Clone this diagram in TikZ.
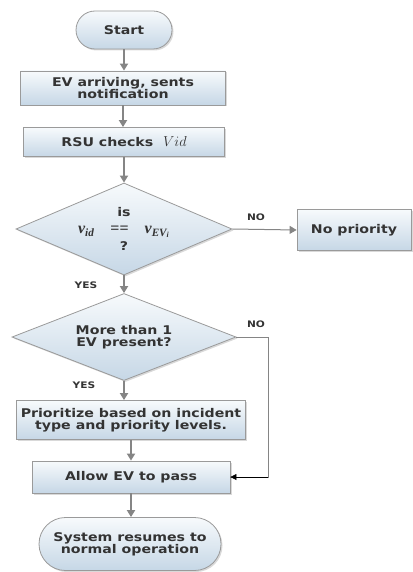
\documentclass[tikz,border=0pt]{standalone}
\usepackage{fontspec}
\setmainfont{DejaVu Sans}[FakeStretch=1.18]
\newfontfamily\vfont{Liberation Serif}
\usetikzlibrary{shapes.geometric,shapes.misc,shadows,arrows.meta}
\definecolor{boxline}{HTML}{9A9A9A}
\definecolor{boxtop}{HTML}{F7FAFC}
\definecolor{boxbot}{HTML}{C6D7E6}
\definecolor{txtgray}{HTML}{333333}
\definecolor{arrgray}{HTML}{858585}
\newcommand{\flowfont}{\fontsize{12}{12}\selectfont\bfseries}
\tikzset{
  procbox/.style={draw=boxline, line width=0.8pt, top color=boxtop, bottom color=boxbot,
    align=center, font=\flowfont, text=txtgray, inner sep=2pt,
    drop shadow={opacity=0.3, shadow xshift=1.5pt, shadow yshift=-1.5pt}},
  terminal/.style={procbox, rounded rectangle},
  decision/.style={procbox, diamond, aspect=2.4, inner sep=-5pt, drop shadow={opacity=0}},
  flowarrow/.style={draw=arrgray, line width=2pt, -{Triangle[length=7pt,width=8pt]}},
  flowlabel/.style={font=\fontsize{9}{10}\selectfont\bfseries, text=txtgray}
}
\begin{document}
\begin{tikzpicture}[x=1pt,y=-1pt]
  \useasboundingbox (0,0) rectangle (412,572);
  % boxes
  \node[terminal, minimum width=100pt, minimum height=38pt] (start) at (124,30) {Start};
  \node[procbox, minimum width=205pt, minimum height=34pt] (arrive) at (123,88) {EV arriving, sents\\notification};
  \node[procbox, minimum width=201pt, minimum height=29pt] (rsu) at (124,142) {RSU checks \ {\normalfont\fontsize{14}{14}\selectfont$Vid$}};
  \node[decision, minimum width=216pt, minimum height=92pt] (isvid) at (124,229)
    {is\\[5pt]{\vfont\fontsize{16}{16}\selectfont\bfseries\itshape v\textsubscript{id}\quad\upshape==\quad\itshape v\textsubscript{EV\textsubscript{i}}}\\[3pt]?};
  \node[procbox, minimum width=114pt, minimum height=41pt] (nopri) at (354,230) {No priority};
  \node[decision, minimum width=224pt, minimum height=87pt] (morev) at (124,337) {More than 1\\EV present?};
  \node[procbox, minimum width=229pt, minimum height=39pt] (prio) at (131,420) {Prioritize based on incident\\type and priority levels.};
  \node[procbox, minimum width=198pt, minimum height=32pt] (allow) at (131,477) {Allow EV to pass};
  \node[terminal, minimum width=186pt, minimum height=53pt] (resume) at (130,544) {System resumes to\\normal operation};
  \coordinate (bend) at (268,337);
  % arrows
  \draw[flowarrow] (start.south) -- (start.south |- arrive.north);
  \draw[flowarrow] (arrive.south) -- (arrive.south |- rsu.north);
  \draw[flowarrow] (rsu.south) -- (rsu.south |- isvid.north);
  \draw[flowarrow] (isvid.south) -- (isvid.south |- morev.north);
  \draw[flowarrow, line width=1pt] (isvid.east) -- (nopri.west);
  \draw[flowarrow] (morev.south) -- (morev.south |- prio.north);
  \draw[flowarrow] (prio.south) -- (prio.south |- allow.north);
  \draw[flowarrow] (allow.south) -- (allow.south |- resume.north);
  \draw[draw=arrgray, line width=1pt] (morev.east) -- (bend) |- (allow.east);
  \draw[black, line width=0.6pt, -{Triangle[length=6pt,width=6pt]}] (bend |- allow.east) -- (allow.east);
  % labels
  \node[flowlabel] (no1) at (256,217) {NO};
  \node[flowlabel] (yes1) at (86,285) {YES};
  \node[flowlabel] (no2) at (256,324) {NO};
  \node[flowlabel] (yes2) at (84,385) {YES};
\end{tikzpicture}
\end{document}
